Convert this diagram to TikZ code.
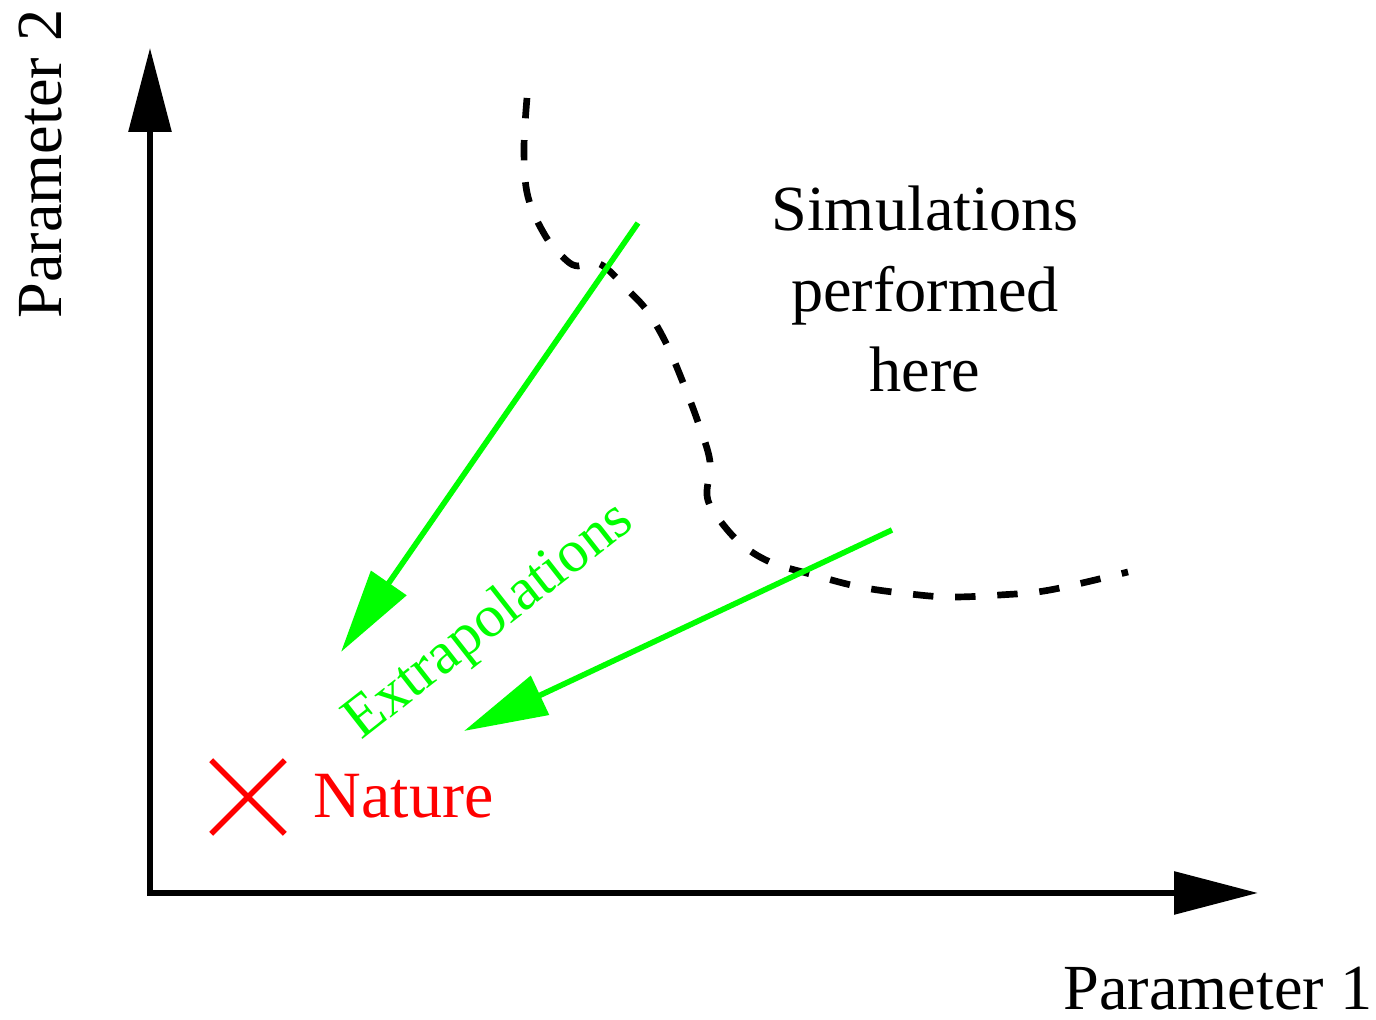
\documentclass[tikz,border=0pt]{standalone}
\usepackage{fontspec}
\setmainfont{Liberation Serif}
\usetikzlibrary{arrows.meta,shapes.misc}
\definecolor{extragreen}{RGB}{0,255,0}
\definecolor{naturered}{RGB}{255,0,0}

\begin{document}
\begin{tikzpicture}[
  font=\fontsize{18.3}{23}\selectfont,
  >={Triangle[length=8.4mm,width=4.2mm]},
  axis/.style={line width=1.7pt,<->},
  boundary/.style={line width=1.9pt,dash pattern=on 5.8pt off 6.2pt},
  extra/.style={extragreen,line width=1.6pt,->},
  extralbl/.style={text=extragreen,font=\fontsize{17}{20}\selectfont},
  naturecross/.style={draw=naturered,shape=cross out,line width=1.6pt,minimum size=6.8mm,inner sep=0pt},
]
\useasboundingbox (0,0) rectangle (13.76,10.20);
% axes
\coordinate (origin) at (1.50,1.27);
\coordinate (ytip) at (1.50,9.72);
\coordinate (xtip) at (12.58,1.27);
\draw[axis] (ytip) -- (origin) -- (xtip);
\node[rotate=90,anchor=base] (ylabel) at (0.61,8.56) {Parameter 2};
\node[anchor=base] (xlabel) at (12.18,0.10) {Parameter 1};
% edge of the simulated region
\draw[boundary] plot[smooth,tension=0.6] coordinates {
  (5.27,9.22) (5.24,8.70) (5.28,8.23) (5.46,7.83) (5.66,7.60) (5.78,7.54)
  (5.92,7.58) (6.06,7.52) (6.28,7.30) (6.48,7.08) (6.67,6.75) (6.84,6.35)
  (6.99,5.95) (7.10,5.58) (7.07,5.25) (7.16,5.05) (7.40,4.77) (7.70,4.58)
  (8.10,4.46) (8.60,4.33) (9.10,4.26) (9.50,4.23) (10.00,4.25) (10.50,4.30)
  (11.28,4.48)};
\node[align=center,anchor=north,inner sep=0pt] (simlbl) at (9.25,8.35) {Simulations\\performed\\here};
% extrapolations
\coordinate (ex1start) at (6.38,7.97);
\coordinate (ex1tip) at (3.41,3.68);
\coordinate (ex2start) at (8.92,4.90);
\coordinate (ex2tip) at (4.64,2.89);
\draw[extra] (ex1start) -- (ex1tip);
\draw[extra] (ex2start) -- (ex2tip);
\node[extralbl,rotate=38] (extrap) at (4.90,3.98) {Extrapolations};
% nature
\node[naturecross] (nature) at (2.48,2.23) {};
\node[anchor=base west,text=naturered,inner sep=0pt,font=\fontsize{18.8}{23}\selectfont] (naturelbl) at (3.13,2.02) {Nature};
\end{tikzpicture}
\end{document}
